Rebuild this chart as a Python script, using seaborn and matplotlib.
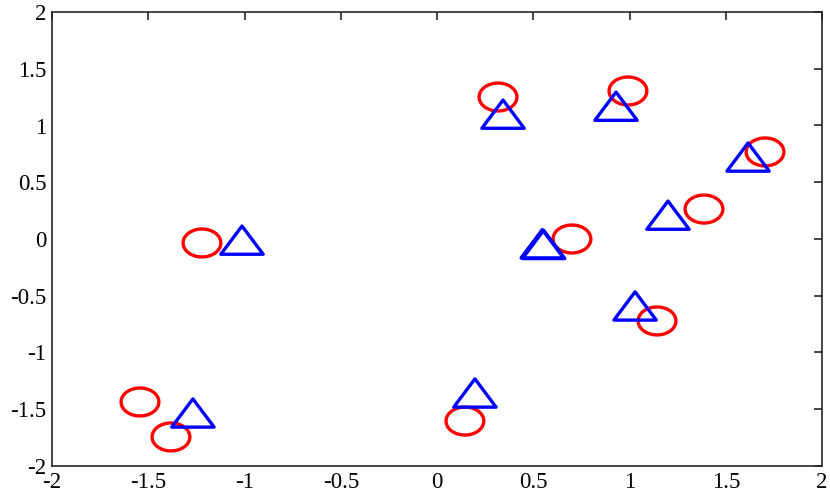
import numpy as np
import pandas as pd
import matplotlib
matplotlib.use("Agg")
import matplotlib.pyplot as plt
from matplotlib.path import Path
import seaborn as sns

# Data
circle_x = [0.317, 0.992, 1.704, 1.387, 0.701, -1.221, 1.143, -1.543, -1.382, 0.145]
circle_y = [1.251, 1.304, 0.767, 0.264, 0.000, -0.035, -0.722, -1.436, -1.744, -1.604]
tri_x = [0.343, 0.930, 1.616, 1.200, 0.547, 0.554, -1.013, 1.029, 0.197, -1.268]
tri_y = [1.100, 1.170, 0.722, 0.210, -0.042, -0.048, -0.010, -0.590, -1.357, -1.533]
xticks = [-2, -1.5, -1, -0.5, 0, 0.5, 1, 1.5, 2]
yticks = [-2, -1.5, -1, -0.5, 0, 0.5, 1, 1.5, 2]

def fmt(v):
    return f"{v:g}"

sns.set_theme(style="white")
plt.rcParams['font.family'] = ['Liberation Serif', 'DejaVu Serif']

# stretched marker shapes (reference markers are wider than tall)
t = np.linspace(0, 2 * np.pi, 73)
ell = Path(np.column_stack([np.cos(t), 0.74 * np.sin(t)]), closed=True)
tri_path = Path([(-1, -0.667), (1, -0.667), (0, 0.667), (-1, -0.667)],
                [Path.MOVETO, Path.LINETO, Path.LINETO, Path.CLOSEPOLY])

df_c = pd.DataFrame({"x": circle_x, "y": circle_y})
df_t = pd.DataFrame({"x": tri_x, "y": tri_y})

fig = plt.figure(figsize=(8.3, 4.98), dpi=100)
ax = fig.add_axes([52 / 830, 1 - 466 / 498, 770 / 830, 454 / 498])

sns.scatterplot(data=df_c, x="x", y="y", marker=ell, s=740,
                facecolor="none", edgecolor="#ff0000", linewidth=2.4, ax=ax)
sns.scatterplot(data=df_t, x="x", y="y", marker=tri_path, s=930,
                facecolor="none", edgecolor="#0000ff", linewidth=2.4, ax=ax)

ax.set_xlim(-2, 2)
ax.set_ylim(-2, 2)
ax.set_xticks(xticks)
ax.set_yticks(yticks)
ax.set_xticklabels([fmt(v) for v in xticks])
ax.set_yticklabels([fmt(v) for v in yticks])
ax.set_xlabel("")
ax.set_ylabel("")
ax.tick_params(direction="in", length=6, width=1.2, top=True, right=True,
               labelsize=16.5, colors="#262626", labelcolor="#000000", pad=4)
for sp in ax.spines.values():
    sp.set_visible(True)
    sp.set_color("#262626")
    sp.set_linewidth(1.2)
ax.set_facecolor("white")
fig.patch.set_facecolor("white")

fig.savefig("out.png", dpi=100)
